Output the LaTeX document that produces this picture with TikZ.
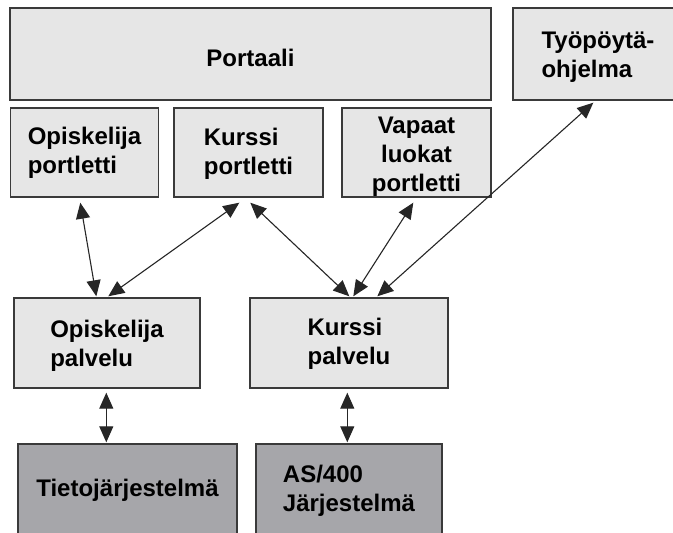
\documentclass[tikz,border=0pt]{standalone}
\usepackage{fontspec}
\setmainfont{Liberation Sans}
\usetikzlibrary{arrows.meta}

% box text: lines set in a tabular, lowered by #1 without changing the box size
\newcommand\boxlines[2]{\raisebox{-#1}[\height][\depth]{\begin{tabular}{@{}l@{}}#2\end{tabular}}}
\newcommand\boxlinesc[2]{\raisebox{-#1}[\height][\depth]{\begin{tabular}{@{}c@{}}#2\end{tabular}}}

\definecolor{boxline}{HTML}{3A3A3A}
\definecolor{lightfill}{HTML}{E6E6E6}
\definecolor{darkfill}{HTML}{A6A6AA}

\begin{document}
\begin{tikzpicture}[x=1pt,y=-1pt,
  box/.style={draw=boxline, line width=1.4pt, rectangle, inner sep=0pt,
    font=\bfseries\fontsize{24}{29}\selectfont},
  lightbox/.style={box, fill=lightfill},
  darkbox/.style={box, fill=darkfill},
  biarrow/.style={{Triangle[length=16pt,width=14pt]}-{Triangle[length=16pt,width=14pt]},
    line width=1.1pt, draw=black!85}]

\useasboundingbox (0,0) rectangle (673,533);
\clip (0,0) rectangle (673,533);
\fill[white] (0,0) rectangle (673,533);

% top row
\node[lightbox, minimum width=481pt, minimum height=92pt] (portaali) at (250.5,54) {\boxlines{7pt}{Portaali}};
\node[lightbox, minimum width=170pt, minimum height=92pt] (tyopoyta) at (598,54) {\boxlines{3.5pt}{Työpöytä-\\ohjelma}};

% portlets
\node[lightbox, minimum width=148pt, minimum height=89pt] (opport) at (84.5,152.5) {\boxlines{1pt}{Opiskelija\\portletti}};
\node[lightbox, minimum width=149pt, minimum height=89pt] (kport) at (248.5,152.5) {\boxlines{2pt}{Kurssi\\portletti}};
\node[lightbox, minimum width=149pt, minimum height=89pt] (vport) at (416.5,152.5) {\boxlinesc{4pt}{Vapaat\\luokat\\portletti}};

% services
\node[lightbox, minimum width=186pt, minimum height=90pt] (oppal) at (107,343) {\boxlines{2.7pt}{Opiskelija\\palvelu}};
\node[lightbox, minimum width=198pt, minimum height=90pt] (kpal) at (349,343) {\boxlines{1pt}{Kurssi\\palvelu}};

% back-end systems
\node[darkbox, minimum width=219pt, minimum height=90pt] (tieto) at (127.5,489) {\boxlines{2pt}{Tietojärjestelmä}};
\node[darkbox, minimum width=186pt, minimum height=90pt] (as400) at (349,489) {\boxlines{2pt}{AS/400\\Järjestelmä}};

% connectors
\draw[biarrow] ([xshift=70.5pt,yshift=-5pt]opport.south west) -- ([xshift=83pt,yshift=1pt]oppal.north west);
\draw[biarrow] ([xshift=66pt,yshift=-5pt]kport.south west) -- ([xshift=95pt,yshift=1pt]oppal.north west);
\draw[biarrow] ([xshift=77pt,yshift=-5pt]kport.south west) -- ([xshift=100pt,yshift=1pt]kpal.north west);
\draw[biarrow] ([xshift=72pt,yshift=-5pt]vport.south west) -- ([xshift=104pt,yshift=1pt]kpal.north west);
\draw[biarrow] ([xshift=81pt,yshift=-2pt]tyopoyta.south west) -- ([xshift=128pt,yshift=1pt]kpal.north west);
\draw[biarrow] ([xshift=93pt,yshift=-4pt]oppal.south west) -- ([xshift=89pt,yshift=1pt]tieto.north west);
\draw[biarrow] ([xshift=98pt,yshift=-4pt]kpal.south west) -- ([xshift=92pt,yshift=1pt]as400.north west);
\end{tikzpicture}
\end{document}
